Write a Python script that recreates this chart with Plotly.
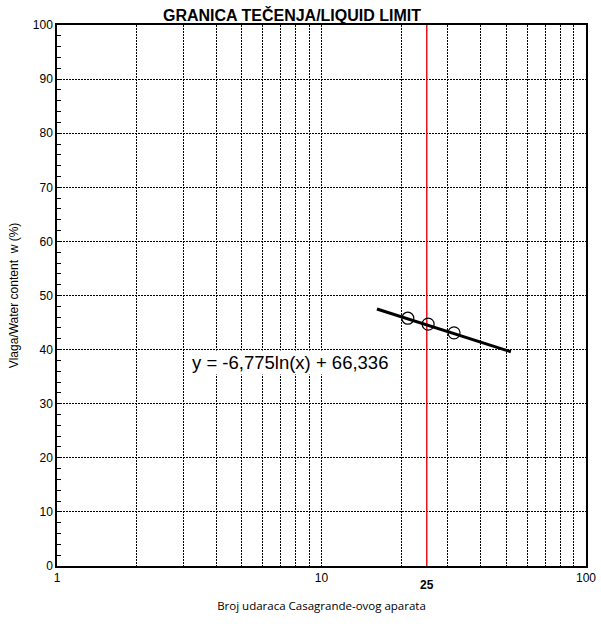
import math
import plotly.graph_objects as go

# Data
blows = [21.2, 25.3, 31.7]
water_content = [45.8, 44.7, 43.1]
trend_x = [16.2, 52.0]
trend_y = [47.5, 39.6]
ref_blows = [25, 25]
ref_range = [0, 100]
equation_text = "y = -6,775ln(x) + 66,336"
x_major = [1, 10, 100]
x_minor = [2, 3, 4, 5, 6, 7, 8, 9, 20, 30, 40, 50, 60, 70, 80, 90]

fig = go.Figure()
fig.add_trace(go.Scatter(x=ref_blows, y=ref_range, mode="lines",
                         line=dict(color="#e8141a", width=1.5), showlegend=False, hoverinfo="skip"))
fig.add_trace(go.Scatter(x=trend_x, y=trend_y, mode="lines",
                         line=dict(color="black", width=3), showlegend=False))
fig.add_trace(go.Scatter(x=blows, y=water_content, mode="markers",
                         marker=dict(symbol="circle-open", size=12, color="black", line=dict(width=1.2)),
                         showlegend=False))

axis_font = dict(family="Liberation Sans, Arial", size=12, color="black")
grid_dash = "2px,1px"

W, H = 601, 624

fig.update_layout(
    width=W, height=H,
    margin=dict(l=57, r=15, t=25, b=58, autoexpand=False),
    paper_bgcolor="white", plot_bgcolor="white",
    title=dict(text="<b>GRANICA TEČENJA/LIQUID LIMIT</b>", x=292/W, xanchor="center",
               xref="container", yref="container", y=1 - 15/H, yanchor="middle",
               font=dict(family="Liberation Sans, Arial", size=16, color="black")),
    xaxis=dict(type="log", range=[0, 2], tickvals=x_major, ticktext=["1", "10", "100"],
               showgrid=True, gridcolor="black", griddash=grid_dash, gridwidth=1,
               minor=dict(tickvals=x_minor, showgrid=True, gridcolor="black", griddash=grid_dash, gridwidth=1, ticks=""),
               showline=True, linecolor="black", linewidth=1.5, mirror=True,
               ticks="", tickfont=axis_font, zeroline=False, automargin=False,
               title=dict(text="Broj udaraca Casagrande-ovog aparata",
                          font=dict(family="Open Sans, Liberation Sans", size=11.5, color="black"),
                          standoff=18)),
    yaxis=dict(range=[0, 100], dtick=10, showgrid=True, gridcolor="black", griddash=grid_dash, gridwidth=1,
               showline=True, linecolor="black", linewidth=1.5, mirror=True,
               ticks="inside", ticklen=5, tickcolor="black", tickfont=axis_font, zeroline=False,
               automargin=False,
               minor=dict(dtick=2, ticks="inside", ticklen=4, tickcolor="black", showgrid=False),
               title=dict(text="Vlaga/Water content  w (%)", font=dict(family="Liberation Sans, Arial", size=12, color="black"),
                          standoff=12)),
)

fig.add_annotation(x=math.log10(25), xref="x", y=0, yref="y", yshift=-19, text="<b>25</b>", showarrow=False,
                   font=dict(family="Liberation Sans, Arial", size=12, color="black"))
fig.add_annotation(x=math.log10(7.6), xref="x", y=37.7, yref="y", text=equation_text, showarrow=False,
                   bgcolor="white", font=dict(family="Liberation Sans, Arial", size=18.5, color="black"))

fig.write_html("out.html", config={"displayModeBar": False},
               post_script="document.body.style.margin='0';")
